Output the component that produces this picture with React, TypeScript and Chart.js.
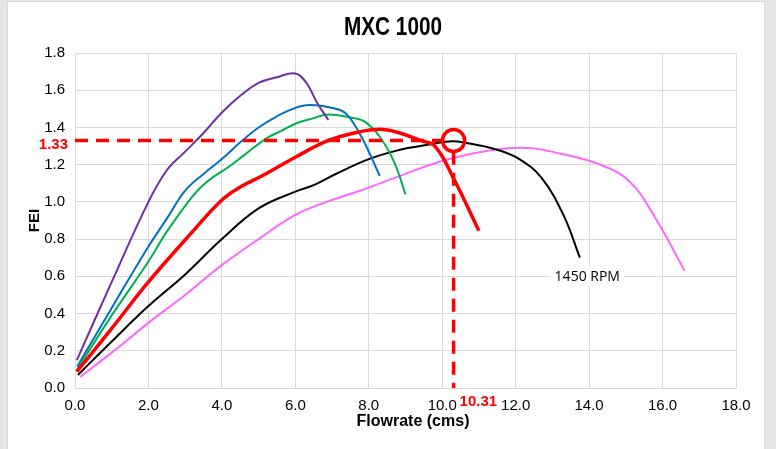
import React, { useEffect, useRef } from "react";
import { Chart, registerables } from "chart.js";

Chart.register(...registerables);

// ---- data (Flowrate in cms, FEI) ----
const purpleX = [0.05, 1.0, 2.0, 2.5, 3.0, 3.5, 4.0, 4.5, 5.0, 5.5, 6.0, 6.3, 6.6, 6.9];
const purpleY = [0.15, 0.57, 1.0, 1.17, 1.27, 1.37, 1.48, 1.57, 1.64, 1.67, 1.69, 1.64, 1.53, 1.44];

const blueX = [0.06, 1.0, 2.0, 2.5, 3.0, 3.5, 4.0, 4.5, 5.0, 5.5, 6.0, 6.4, 7.1, 7.4, 7.8, 8.3];
const blueY = [0.115, 0.43, 0.76, 0.91, 1.06, 1.15, 1.23, 1.32, 1.4, 1.46, 1.505, 1.52, 1.5, 1.47, 1.35, 1.14];

const greenX = [0.06, 1.0, 2.0, 2.5, 3.2, 3.6, 4.2, 4.6, 5.2, 5.6, 6.0, 6.5, 6.9, 7.6, 7.9, 8.3, 8.7, 9.0];
const greenY = [0.1, 0.39, 0.68, 0.84, 1.03, 1.11, 1.19, 1.25, 1.34, 1.38, 1.42, 1.45, 1.47, 1.45, 1.43, 1.35, 1.21, 1.04];

const redX = [0.05, 1.0, 2.0, 3.2, 4.0, 4.5, 5.1, 6.0, 6.9, 7.6, 8.3, 8.85, 9.4, 9.8, 10.3, 11.0];
const redY = [0.088, 0.32, 0.57, 0.84, 1.01, 1.08, 1.14, 1.24, 1.33, 1.37, 1.39, 1.37, 1.33, 1.3, 1.13, 0.845];

const blackX = [0.08, 1.0, 2.0, 3.0, 4.0, 5.0, 6.0, 6.5, 7.1, 8.0, 8.85, 9.4, 10.2, 10.7, 11.5, 12.1, 12.7, 13.3, 13.75];
const blackY = [0.07, 0.25, 0.44, 0.61, 0.8, 0.965, 1.055, 1.09, 1.15, 1.23, 1.28, 1.3, 1.325, 1.315, 1.28, 1.23, 1.13, 0.93, 0.7];

const pinkX = [0.14, 1.0, 2.0, 3.0, 4.0, 5.0, 6.0, 6.85, 7.76, 8.85, 9.4, 10.0, 11.1, 12.3, 13.2, 14.3, 15.1, 15.8, 16.6];
const pinkY = [0.06, 0.19, 0.35, 0.5, 0.66, 0.8, 0.93, 1.0, 1.06, 1.14, 1.18, 1.22, 1.27, 1.29, 1.26, 1.2, 1.11, 0.915, 0.63];

// operating point marker and guide lines
const opX = [10.31];
const opY = [1.33];
const hGuideX = [0, 10.0];
const hGuideY = [1.33, 1.33];
const vGuideX = [10.31, 10.31];
const vGuideY = [1.27, 0];

// axes
const xMin = 0, xMax = 18, xStep = 2;
const yMin = 0, yMax = 1.8, yStep = 0.2;

// texts
const titleText = "MXC 1000";
const xTitle = "Flowrate (cms)";
const yTitle = "FEI";
const opXLabel = "10.31";
const opYLabel = "1.33";
const rpmLabel = "1450 RPM";
const rpmLabelX = [13.95];
const rpmLabelY = [0.6];

const pts = (xs: number[], ys: number[]) => xs.map((x, i) => ({ x, y: ys[i] }));

const labelsPlugin = {
  id: "customLabels",
  afterDraw(chart: any) {
    const { ctx, chartArea } = chart;
    const xs = chart.scales.x;
    const ys = chart.scales.y;
    ctx.save();

    // Title (condensed bold)
    ctx.font = "bold 25px 'Liberation Sans Narrow', 'Liberation Sans', Arial, sans-serif";
    ctx.fillStyle = "#000";
    ctx.textAlign = "center";
    ctx.textBaseline = "middle";
    const tw = ctx.measureText(titleText).width;
    const target = 98;
    const sx = tw > target ? target / tw : 1;
    ctx.save();
    ctx.translate(385, 26);
    ctx.scale(sx, 1);
    ctx.fillText(titleText, 0, 0);
    ctx.restore();

    // Axis titles
    ctx.font = "bold 16px 'Liberation Sans', Arial, sans-serif";
    ctx.fillText(xTitle, 405, 420);
    ctx.save();
    ctx.translate(27, (chartArea.top + chartArea.bottom) / 2);
    ctx.rotate(-Math.PI / 2);
    ctx.font = "bold 15px 'Liberation Sans', Arial, sans-serif";
    ctx.fillText(yTitle, 0, 0);
    ctx.restore();

    // Operating point labels
    ctx.fillStyle = "#ff0000";
    ctx.font = "bold 15px 'Liberation Sans', Arial, sans-serif";
    ctx.textAlign = "right";
    ctx.fillText(opYLabel, chartArea.left - 7, ys.getPixelForValue(opY[0]) + 4);
    ctx.textAlign = "left";
    ctx.fillText(opXLabel, xs.getPixelForValue(opX[0]) + 6, chartArea.bottom + 14);

    // RPM label with white box
    ctx.font = "14px 'Open Sans', 'Noto Sans', sans-serif";
    ctx.textAlign = "center";
    const lx = xs.getPixelForValue(rpmLabelX[0]);
    const ly = ys.getPixelForValue(rpmLabelY[0]);
    const lw = ctx.measureText(rpmLabel).width;
    ctx.fillStyle = "#fff";
    ctx.fillRect(lx - lw / 2 - 4, ly - 10, lw + 8, 20);
    ctx.fillStyle = "#000";
    ctx.fillText(rpmLabel, lx, ly + 1);

    ctx.restore();
  },
};

export default function App() {
  const ref = useRef<HTMLCanvasElement | null>(null);

  useEffect(() => {
    if (!ref.current) return;
    const curve = (data: any, color: string, width: number) => ({
      data,
      borderColor: color,
      backgroundColor: color,
      borderWidth: width,
      showLine: true,
      pointRadius: 0,
      tension: 0.4,
      fill: false,
    });
    const chart = new Chart(ref.current, {
      type: "scatter",
      data: {
        datasets: [
          {
            data: pts(opX, opY),
            showLine: false,
            pointRadius: 11,
            pointHoverRadius: 11,
            pointBorderWidth: 3.5,
            pointBorderColor: "#ff0000",
            pointBackgroundColor: "rgba(0,0,0,0)",
          },
          {
            data: pts(hGuideX, hGuideY),
            showLine: true,
            borderColor: "#ff0000",
            borderWidth: 3.5,
            borderDash: [13, 8],
            pointRadius: 0,
          },
          {
            data: pts(vGuideX, vGuideY),
            showLine: true,
            borderColor: "#ff0000",
            borderWidth: 3.5,
            borderDash: [13, 8],
            pointRadius: 0,
          },
          curve(pts(redX, redY), "#ff0000", 3.5),
          curve(pts(purpleX, purpleY), "#7030a0", 2),
          curve(pts(blueX, blueY), "#0070c0", 2),
          curve(pts(greenX, greenY), "#00b050", 2),
          curve(pts(blackX, blackY), "#000000", 2),
          curve(pts(pinkX, pinkY), "#ff66ff", 2),
        ] as any,
      },
      options: {
        animation: false,
        responsive: false,
        maintainAspectRatio: false,
        layout: { padding: { top: 51, left: 0, right: 28, bottom: 0 } },
        plugins: {
          legend: { display: false },
          tooltip: { enabled: false },
          title: { display: false },
        },
        scales: {
          x: {
            type: "linear",
            min: xMin,
            max: xMax,
            afterFit: (s: any) => {
              s.height = 61;
            },
            ticks: {
              stepSize: xStep,
              padding: 9,
              color: "#000",
              font: { family: "'Liberation Sans', Arial, sans-serif", size: 15 },
              callback: (v: any) => Number(v).toFixed(1),
            },
            grid: { color: "#d9d9d9", drawTicks: false, lineWidth: 1 },
            border: { color: "#d9d9d9" },
          },
          y: {
            type: "linear",
            min: yMin,
            max: yMax,
            afterFit: (s: any) => {
              s.width = 67;
            },
            ticks: {
              stepSize: yStep,
              padding: 10,
              color: "#000",
              font: { family: "'Liberation Sans', Arial, sans-serif", size: 15 },
              callback: (v: any) => Number(v).toFixed(1),
            },
            grid: { color: "#d9d9d9", drawTicks: false, lineWidth: 1 },
            border: { color: "#d9d9d9" },
          },
        },
      },
      plugins: [labelsPlugin],
    });
    return () => chart.destroy();
  }, []);

  return (
    <div
      style={{
        position: "fixed",
        left: 0,
        top: 0,
        width: 776,
        height: 449,
        background: "#e6e6e6",
        overflow: "hidden",
      }}
    >
      <div
        style={{
          position: "absolute",
          left: 8,
          top: 2,
          width: 756,
          height: 447,
          background: "#ffffff",
          boxShadow: "0 0 0 1px #d8d8d8",
        }}
      >
        <canvas ref={ref} width={756} height={447} style={{ display: "block", width: 756, height: 447 }} />
      </div>
    </div>
  );
}
